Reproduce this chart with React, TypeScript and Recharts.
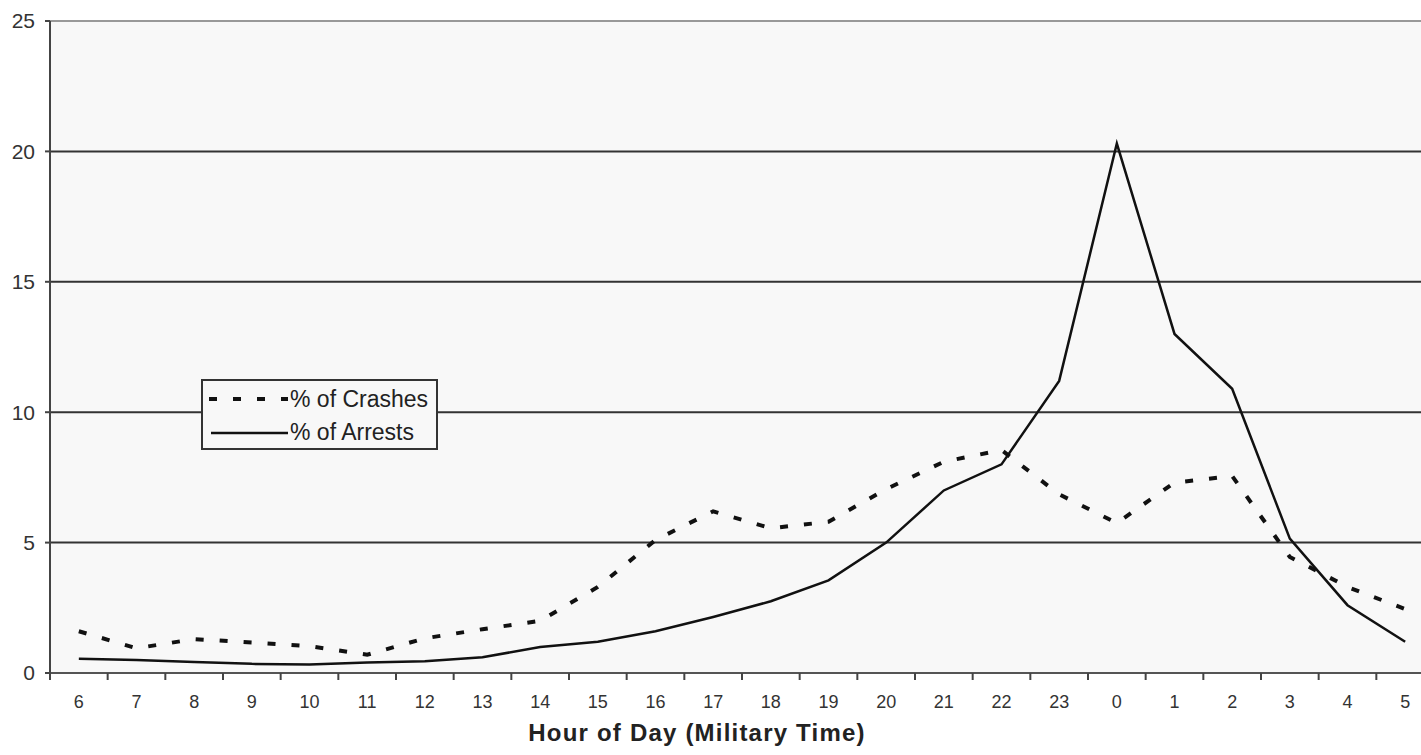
import React from 'react';
import { LineChart, Line, XAxis, YAxis, CartesianGrid, ReferenceLine, Legend } from 'recharts';

const hours = ['6', '7', '8', '9', '10', '11', '12', '13', '14', '15', '16', '17', '18', '19', '20', '21', '22', '23', '0', '1', '2', '3', '4', '5'];
const crashes = [1.6, 0.95, 1.3, 1.17, 1.03, 0.7, 1.33, 1.68, 2.0, 3.3, 5.1, 6.2, 5.55, 5.8, 7.05, 8.1, 8.55, 6.85, 5.75, 7.3, 7.55, 4.45, 3.3, 2.45];
const arrests = [0.55, 0.5, 0.42, 0.35, 0.33, 0.4, 0.45, 0.6, 1.0, 1.2, 1.6, 2.15, 2.75, 3.55, 5.0, 7.0, 8.0, 11.2, 20.3, 13.0, 10.9, 5.15, 2.6, 1.2];
const yTicks = [0, 5, 10, 15, 20, 25];
const seriesNames = ['% of Crashes', '% of Arrests'];
const xAxisTitle = 'Hour of Day (Military Time)';

const data = hours.map((h, i) => ({ pos: i + 0.5, hour: h, crashes: crashes[i], arrests: arrests[i] }));
const xTicks: number[] = [];
for (let i = 0; i <= hours.length * 2; i++) xTicks.push(i / 2);

const FONT = '"Liberation Sans", Arial, sans-serif';
const NARROW = '"Liberation Sans Narrow", "Arial Narrow", "Liberation Sans", sans-serif';

const XTick = (props: any) => {
  const { x, y, payload } = props;
  const v = payload.value as number;
  if (Number.isInteger(v)) {
    return <line x1={x} y1={y} x2={x} y2={y + 7} stroke="#444" strokeWidth={2} />;
  }
  const label = hours[Math.floor(v)];
  return (
    <text x={x} y={y + 22} dy="0.71em" textAnchor="middle" fontSize={18} fill="#333" fontFamily={NARROW}>
      {label}
    </text>
  );
};

const LegendBox = () => (
  <div
    style={{
      width: 233,
      height: 67,
      border: '2px solid #333',
      background: '#f8f8f8',
      fontFamily: FONT,
      fontSize: 23,
      color: '#222',
      boxSizing: 'content-box',
      paddingTop: 0,
    }}
  >
    <div style={{ display: 'flex', alignItems: 'center', height: 36 }}>
      <svg width={82} height={10} style={{ marginLeft: 5 }}>
        <line x1={1} y1={5} x2={80} y2={5} stroke="#111" strokeWidth={4} strokeDasharray="8 16" />
      </svg>
      <span style={{ lineHeight: '23px' }}>{seriesNames[0]}</span>
    </div>
    <div style={{ display: 'flex', alignItems: 'center', height: 31 }}>
      <svg width={82} height={10} style={{ marginLeft: 5 }}>
        <line x1={3} y1={5} x2={80} y2={5} stroke="#111" strokeWidth={2.5} />
      </svg>
      <span style={{ lineHeight: '23px' }}>{seriesNames[1]}</span>
    </div>
  </div>
);

export default function App() {
  return (
    <div style={{ position: 'absolute', left: 0, top: 0, width: 1421, height: 755, overflow: 'hidden', background: '#fff' }}>
      <LineChart width={1440} height={755} data={data} margin={{ top: 21, right: 6, bottom: 0, left: 0 }}>
        <CartesianGrid horizontal vertical={false} horizontalValues={[5, 10, 15, 20]} stroke="#333" strokeWidth={2} fill="#f8f8f8" strokeOpacity={1} />
        <ReferenceLine y={25} stroke="#999" strokeWidth={2} />
        <XAxis
          dataKey="pos"
          type="number"
          domain={[0, hours.length]}
          ticks={xTicks}
          interval={0}
          tickLine={false}
          tickSize={0}
          tickMargin={0}
          tick={<XTick />}
          axisLine={{ stroke: '#555', strokeWidth: 2 }}
          height={82}
          allowDecimals
        />
        <YAxis
          domain={[0, 25]}
          ticks={yTicks}
          width={50}
          tickSize={5}
          tickMargin={10}
          tickLine={{ stroke: '#444', strokeWidth: 2 }}
          axisLine={{ stroke: '#444', strokeWidth: 2 }}
          tick={{ fontSize: 21, fill: '#333', fontFamily: NARROW }}
        />
        <Legend
          layout="vertical"
          align="center"
          verticalAlign="middle"
          wrapperStyle={{ left: 201, top: 379, width: 'auto' }}
          content={() => <LegendBox />}
        />
        <Line type="linear" dataKey="crashes" name={seriesNames[0]} stroke="#111" strokeWidth={4} strokeDasharray="8 16" dot={false} activeDot={false} isAnimationActive={false} />
        <Line type="linear" dataKey="arrests" name={seriesNames[1]} stroke="#111" strokeWidth={2.5} dot={false} activeDot={false} isAnimationActive={false} />
      </LineChart>
      <div
        style={{
          position: 'absolute',
          left: 0,
          width: 1394,
          top: 719,
          textAlign: 'center',
          fontFamily: FONT,
          fontWeight: 'bold',
          fontSize: 24,
          letterSpacing: 1.2,
          color: '#222',
        }}
      >
        {xAxisTitle}
      </div>
    </div>
  );
}
